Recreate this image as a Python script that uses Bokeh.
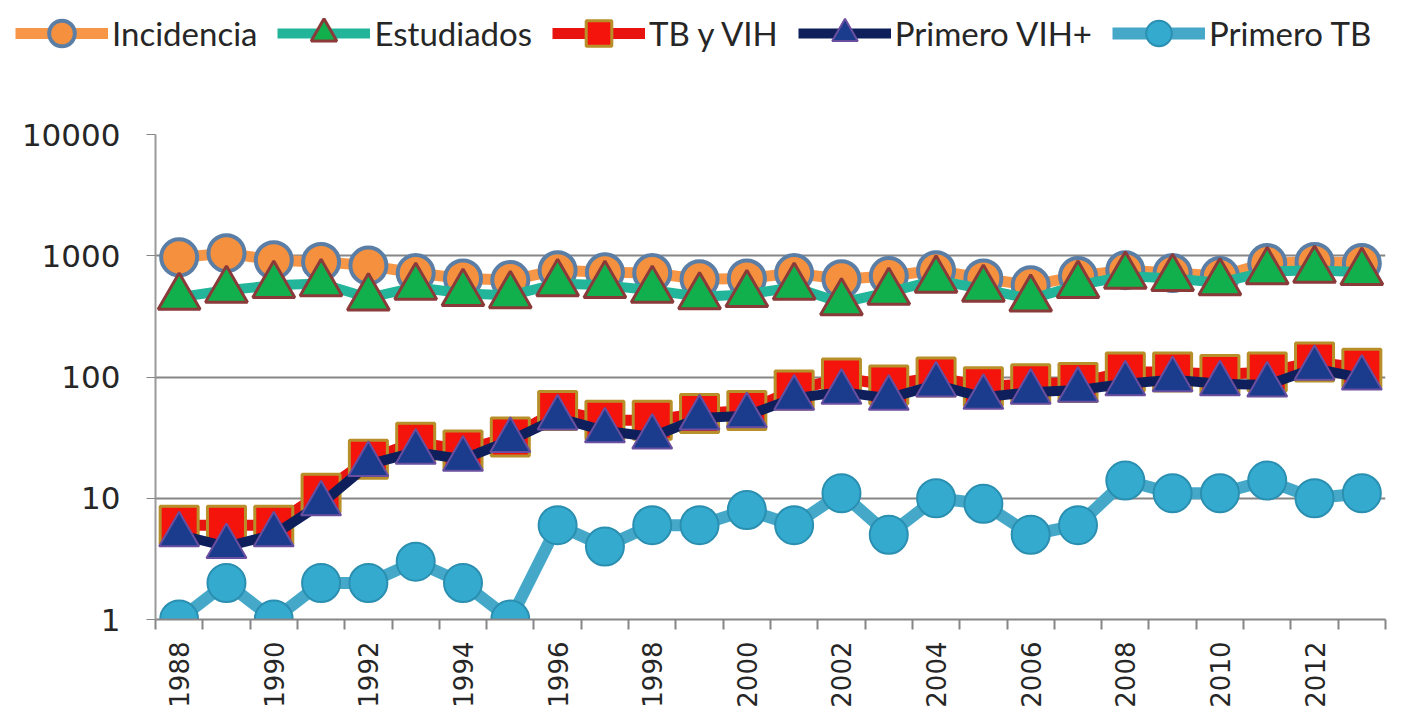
import math
from bokeh.plotting import figure
from bokeh.layouts import column
from bokeh.models import (ColumnDataSource, FixedTicker, PrintfTickFormatter,
                          Legend, LegendItem, Range1d)
from bokeh.embed import file_html
from bokeh.resources import INLINE

years = list(range(1988, 2014))
incidencia = [970, 1050, 920, 890, 830, 720, 650, 630, 760, 730, 720, 640, 650,
              720, 640, 680, 760, 650, 570, 680, 760, 720, 680, 870, 890, 870]
estudiados = [455, 520, 570, 590, 450, 550, 490, 470, 590, 570, 520, 460, 480,
              550, 410, 500, 630, 530, 440, 570, 680, 650, 600, 740, 760, 730]
tb_vih = [6, 6, 6, 11, 21, 29, 25, 32, 53, 44, 44, 50, 53,
          78, 98, 86, 100, 83, 88, 90, 110, 110, 105, 110, 133, 118]
primero_vih = [5, 4, 5, 9, 19, 24, 21, 30, 46, 36, 32, 46, 48,
               67, 75, 67, 86, 68, 75, 78, 88, 95, 88, 86, 118, 98]
primero_tb = [1, 2, 1, 2, 2, 3, 2, 1, 6, 4, 6, 6, 8,
              6, 11, 5, 10, 9, 5, 6, 14, 11, 11, 14, 10, 11]
series_names = ["Incidencia", "Estudiados", "TB y VIH", "Primero VIH+", "Primero TB"]
y_ticks = [1, 10, 100, 1000, 10000]
x_label_years = list(range(1988, 2014, 2))

src = ColumnDataSource(dict(x=years, inc=incidencia, est=estudiados, tbv=tb_vih,
                            pv=primero_vih, ptb=primero_tb))

styles = [
    dict(col="inc", lc="#F79646", lw=11, marker="circle", size=36,
         fc="#F5913E", mlc="#5A7EA6", mlw=4),
    dict(col="est", lc="#23B59A", lw=10, marker="triangle", size=42,
         fc="#12B04C", mlc="#8B3A3A", mlw=3),
    dict(col="tbv", lc="#E8130F", lw=11, marker="square", size=38,
         fc="#F5140C", mlc="#B8902A", mlw=3),
    dict(col="pv", lc="#0F1F5C", lw=10, marker="triangle", size=40,
         fc="#1B3C8C", mlc="#6A4FA0", mlw=2),
    dict(col="ptb", lc="#45A8C9", lw=12, marker="circle", size=38,
         fc="#35AACF", mlc="#2A8FB0", mlw=2),
]

LEG_H = 66
MAIN_H = 644

p = figure(width=1400, height=MAIN_H, y_axis_type="log", output_backend="svg",
           toolbar_location=None, x_range=Range1d(years[0] - 0.5, years[-1] + 0.5),
           y_range=Range1d(1, 10000))
p.min_border_left = 155
p.min_border_right = 15
p.min_border_top = 134 - LEG_H
p.min_border_bottom = MAIN_H - (134 - LEG_H) - 486
p.outline_line_color = None

p.xgrid.grid_line_color = None
p.ygrid.ticker = FixedTicker(ticks=y_ticks)
p.ygrid.grid_line_color = "#868686"
p.ygrid.grid_line_width = 2

yax = p.yaxis[0]
yax.ticker = FixedTicker(ticks=y_ticks, minor_ticks=[])
yax.formatter = PrintfTickFormatter(format="%d")
yax.axis_line_color = "#9a9a9a"
yax.axis_line_width = 2
yax.major_tick_line_color = "#868686"
yax.major_tick_out = 9
yax.major_tick_in = 0
yax.minor_tick_line_color = None
yax.major_label_text_font = "DejaVu Sans"
yax.major_label_text_font_size = "31px"
yax.major_label_text_color = "#262626"
yax.major_label_standoff = 26

xax = p.xaxis[0]
xax.ticker = FixedTicker(ticks=x_label_years,
                         minor_ticks=[y - 0.5 for y in years] + [years[-1] + 0.5])
xax.axis_line_color = "#868686"
xax.axis_line_width = 2
xax.major_tick_line_color = None
xax.minor_tick_line_color = "#868686"
xax.minor_tick_line_width = 2
xax.minor_tick_out = 10
xax.minor_tick_in = 0
xax.major_label_orientation = math.pi / 2
xax.major_label_text_font = "DejaVu Sans"
xax.major_label_text_font_size = "26px"
xax.major_label_text_color = "#262626"
xax.major_label_standoff = 12

for s in styles:
    p.line("x", s["col"], source=src, line_color=s["lc"], line_width=s["lw"])
    p.scatter("x", s["col"], source=src, marker=s["marker"], size=s["size"],
              fill_color=s["fc"], line_color=s["mlc"], line_width=s["mlw"])

# legend strip: same series drawn out of its (tiny) visible range, only the legend shows
leg = figure(width=1400, height=LEG_H, output_backend="svg", toolbar_location=None,
             x_range=Range1d(0, 1), y_range=Range1d(0, 1),
             x_axis_location=None, y_axis_location=None)
leg.min_border = 0
leg.grid.visible = False
leg.outline_line_color = None
leg_x = 15
try:
    leg.frame_align = False
except Exception:
    leg_x = 15 - 155
items = []
for name, s in zip(series_names, styles):
    rl = leg.line("x", s["col"], source=src, line_color=s["lc"], line_width=s["lw"])
    rm = leg.scatter("x", s["col"], source=src, marker=s["marker"], size=s["size"] * 0.8,
                     fill_color=s["fc"], line_color=s["mlc"], line_width=s["mlw"])
    items.append(LegendItem(label=name, renderers=[rl, rm]))
legend = Legend(items=items, orientation="horizontal", location=(leg_x, 1))
legend.background_fill_alpha = 0
legend.border_line_color = None
legend.label_text_font = "Lato"
legend.label_text_font_size = "33px"
legend.label_text_color = "#262626"
legend.glyph_width = 93
legend.glyph_height = 64
legend.label_standoff = 4
legend.spacing = 20
legend.padding = 0
legend.margin = 0
leg.add_layout(legend, "center")

layout = column(leg, p, spacing=0)
open("out.html", "w").write(file_html(layout, INLINE))
